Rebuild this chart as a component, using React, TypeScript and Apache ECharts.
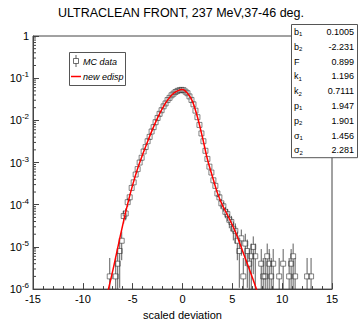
import React, { useEffect, useRef } from 'react';
import * as echarts from 'echarts';

const TITLE = 'ULTRACLEAN FRONT, 237 MeV,37-46 deg.';
const X_AXIS_NAME = 'scaled deviation';
const X_MIN = -15;
const X_MAX = 15;
const Y_MIN = 1e-6;
const Y_MAX = 1;

// MC data: bin centres and contents
const mcX = [
  -7.3, -6.7, -6.5, -6.3, -6.1, -5.9, -5.7, -5.5, -5.3, -5.1, -4.9, -4.7, -4.5, -4.3, -4.1,
  -3.9, -3.7, -3.5, -3.3, -3.1, -2.9, -2.7, -2.5, -2.3, -2.1, -1.9, -1.7, -1.5, -1.3, -1.1,
  -0.9, -0.7, -0.5, -0.3, -0.1, 0.1, 0.3, 0.5, 0.7, 0.9, 1.1, 1.3, 1.5, 1.7, 1.9,
  2.1, 2.3, 2.5, 2.7, 2.9, 3.1, 3.3, 3.5, 3.7, 3.9, 4.1, 4.3, 4.5, 4.7, 4.9,
  5.1, 5.3, 5.5, 5.7, 5.9, 6.1, 6.3, 6.5, 6.7, 6.9, 7.1, 7.3, 7.9, 8.1, 8.3,
  8.5, 8.7, 8.9, 9.1, 9.7, 10.1, 10.7, 10.9, 11.1, 11.3, 12.5, 12.9,
];
const mcY = [
  2e-6, 2e-6, 4e-6, 8e-6, 1.4e-5, 5.4e-5, 6.2e-5, 1.15e-4, 1.5e-4, 2.5e-4, 3.4e-4, 5.2e-4, 7.0e-4, 1.0e-3, 1.3e-3,
  1.83e-3, 2.33e-3, 3.2e-3, 4.05e-3, 5.45e-3, 6.9e-3, 9.05e-3, 1.14e-2, 1.43e-2, 1.74e-2, 2.15e-2, 2.52e-2, 3.03e-2, 3.42e-2, 3.93e-2,
  4.3e-2, 4.7e-2, 5.0e-2, 5.18e-2, 5.28e-2, 5.2e-2, 4.8e-2, 4.4e-2, 3.7e-2, 3.05e-2, 2.4e-2, 1.7e-2, 1.19e-2, 7.8e-3, 4.9e-3,
  3.2e-3, 1.9e-3, 1.22e-3, 8.0e-4, 5.8e-4, 3.8e-4, 2.8e-4, 1.85e-4, 1.5e-4, 1.08e-4, 9.2e-5, 6.8e-5, 6.0e-5, 4.4e-5, 3.9e-5,
  2.7e-5, 2.4e-5, 1.4e-5, 8e-6, 1.6e-5, 2e-6, 1.2e-5, 8e-6, 4e-6, 6e-6, 1e-5, 6e-6, 4e-6, 2e-6, 2e-6,
  6e-6, 4e-6, 2e-6, 4e-6, 2e-6, 4e-6, 2e-6, 4e-6, 6e-6, 2e-6, 2e-6, 2e-6,
];
// per-entry weight used for the statistical error bars
const EVENT_WEIGHT = 6e-6;

// fit curve "new edisp"
const fitX = [
  -7.45, -7.0, -6.5, -6.0, -5.5, -5.0, -4.5, -4.0, -3.5, -3.0, -2.5, -2.0, -1.5, -1.0, -0.5,
  0.0, 0.5, 1.0, 1.5, 2.0, 2.5, 3.0, 3.5, 4.0, 4.5, 5.0, 5.5, 6.0, 6.5, 7.0, 7.45,
];
const fitY = [
  9.5e-7, 2.7e-6, 9.5e-6, 3.3e-5, 1.05e-4, 2.95e-4, 7.2e-4, 1.55e-3, 3.16e-3, 6.2e-3, 1.15e-2, 1.95e-2, 3.02e-2, 4.17e-2, 5.0e-2,
  5.37e-2, 4.37e-2, 2.82e-2, 1.2e-2, 3.98e-3, 1.2e-3, 4.68e-4, 1.91e-4, 9.8e-5, 5.75e-5, 3.3e-5, 1.74e-5, 8.3e-6, 4.0e-6, 1.9e-6, 9.5e-7,
];

const statLabels = ['b{s|1}', 'b{s|2}', 'F', 'k{s|1}', 'k{s|2}', 'p{s|1}', 'p{s|2}', '\u03c3{s|1}', '\u03c3{s|2}'];
const statValues = ['0.1005', '-2.231', '0.899', '1.196', '0.7111', '1.947', '1.901', '1.456', '2.281'];

const legendLabels = ['MC data', 'new edisp'];

const FONT = '"Liberation Sans", Arial, Helvetica, sans-serif';

export default function App() {
  const ref = useRef<HTMLDivElement>(null);

  useEffect(() => {
    if (!ref.current) return;
    const chart = echarts.init(ref.current, null, { renderer: 'svg' });

    const mcData = mcX.map((x, i) => {
      const v = mcY[i];
      const e = Math.sqrt(v * EVENT_WEIGHT);
      return [x, v, v - e, v + e];
    });

    const minorY: number[] = [];
    for (let k = -6; k < 0; k++) {
      for (let m = 2; m <= 9; m++) minorY.push(m * Math.pow(10, k));
    }

    const statGraphics: any[] = [];
    const boxL = 291;
    const boxT = 24;
    const rowH = 14.8;
    const boxW = 66;
    statGraphics.push({
      type: 'rect',
      z: 100,
      shape: { x: boxL + 0.5, y: boxT + 0.5, width: boxW, height: rowH * statLabels.length },
      style: { fill: '#fff', stroke: '#555', lineWidth: 1 },
    });
    statLabels.forEach((lab, i) => {
      const cy = boxT + rowH / 2 + i * rowH + 0.5;
      statGraphics.push({
        type: 'text',
        z: 101,
        x: boxL + 3,
        y: cy,
        style: {
          text: lab,
          font: `9px ${FONT}`,
          fill: '#000',
          verticalAlign: 'middle',
          textAlign: 'left',
          rich: { s: { fontSize: 6, fontFamily: FONT, padding: [5, 0, 0, 0] } },
        },
      });
      statGraphics.push({
        type: 'text',
        z: 101,
        x: boxL + boxW - 3,
        y: cy,
        style: {
          text: statValues[i],
          font: `9px ${FONT}`,
          fill: '#000',
          verticalAlign: 'middle',
          textAlign: 'right',
        },
      });
    });

    const legendGraphics: any[] = [
      {
        type: 'rect',
        z: 100,
        shape: { x: 69.5, y: 52.5, width: 56, height: 33 },
        style: { fill: '#fff', stroke: '#555', lineWidth: 1 },
      },
      { type: 'line', z: 101, shape: { x1: 76, y1: 55, x2: 76, y2: 58.5 }, style: { stroke: '#333', lineWidth: 0.8 } },
      { type: 'line', z: 101, shape: { x1: 76, y1: 63.5, x2: 76, y2: 67 }, style: { stroke: '#333', lineWidth: 0.8 } },
      { type: 'rect', z: 101, shape: { x: 73.5, y: 58.5, width: 5, height: 5 }, style: { fill: 'none', stroke: '#333', lineWidth: 0.7 } },
      {
        type: 'text', z: 101, x: 83, y: 61.5,
        style: { text: legendLabels[0], font: `italic 9px ${FONT}`, fill: '#000', verticalAlign: 'middle' },
      },
      { type: 'line', z: 101, shape: { x1: 71, y1: 76.5, x2: 81, y2: 76.5 }, style: { stroke: '#ff0000', lineWidth: 1.5 } },
      {
        type: 'text', z: 101, x: 83, y: 76.5,
        style: { text: legendLabels[1], font: `italic 9px ${FONT}`, fill: '#000', verticalAlign: 'middle' },
      },
    ];

    const option: any = {
      animation: false,
      textStyle: { fontFamily: FONT },
      grid: {
        left: 33,
        right: 26,
        top: 36,
        bottom: 29,
        show: true,
        borderColor: '#444',
        borderWidth: 1,
        backgroundColor: 'transparent',
      },
      xAxis: {
        type: 'value',
        min: X_MIN,
        max: X_MAX,
        interval: 5,
        name: X_AXIS_NAME,
        nameLocation: 'middle',
        nameGap: 18,
        nameTextStyle: { fontSize: 11, color: '#000', fontFamily: FONT },
        axisLine: { show: true, onZero: false, lineStyle: { color: '#444', width: 1 } },
        axisTick: { show: true, inside: true, length: 6, lineStyle: { color: '#444' } },
        minorTick: { show: true, splitNumber: 5, length: 3, lineStyle: { color: '#444' } },
        axisLabel: { fontSize: 11, color: '#000', margin: 4, fontFamily: FONT },
        splitLine: { show: false },
      },
      yAxis: {
        type: 'log',
        logBase: 10,
        min: Y_MIN,
        max: Y_MAX,
        axisLine: { show: true, onZero: false, lineStyle: { color: '#444', width: 1 } },
        axisTick: { show: true, inside: true, length: 6, lineStyle: { color: '#444' } },
        axisLabel: {
          fontSize: 11,
          color: '#000',
          margin: 4,
          fontFamily: FONT,
          formatter: (v: number) => {
            const ex = Math.round(Math.log10(v));
            if (ex === 0) return '1';
            return '10{sup|' + ex + '}';
          },
          rich: {
            sup: { fontSize: 8, fontFamily: FONT, padding: [0, 0, 7, 0] },
          },
        },
        splitLine: { show: false },
      },
      series: [
        {
          type: 'custom',
          name: 'minorY',
          clip: false,
          silent: true,
          data: minorY.map((v) => [X_MIN, v]),
          renderItem: (params: any, api: any) => {
            const p = api.coord([api.value(0), api.value(1)]);
            return {
              type: 'line',
              shape: { x1: p[0], y1: p[1], x2: p[0] + 3, y2: p[1] },
              style: { stroke: '#444', lineWidth: 1 },
            };
          },
        },
        {
          type: 'custom',
          name: 'MC data',
          clip: true,
          silent: true,
          data: mcData,
          renderItem: (params: any, api: any) => {
            const x = api.value(0);
            const v = api.value(1);
            const lo = Math.max(api.value(2), Y_MIN * 0.5);
            const hi = api.value(3);
            const pc = api.coord([x, v]);
            const pl = api.coord([x, lo]);
            const ph = api.coord([x, hi]);
            const h = 2.5;
            const children: any[] = [];
            if (pl[1] > pc[1] + h) {
              children.push({
                type: 'line',
                shape: { x1: pc[0], y1: pc[1] + h, x2: pc[0], y2: pl[1] },
                style: { stroke: '#333', lineWidth: 0.8 },
              });
            }
            if (ph[1] < pc[1] - h) {
              children.push({
                type: 'line',
                shape: { x1: pc[0], y1: ph[1], x2: pc[0], y2: pc[1] - h },
                style: { stroke: '#333', lineWidth: 0.8 },
              });
            }
            children.push({
              type: 'rect',
              shape: { x: pc[0] - h, y: pc[1] - h, width: 2 * h, height: 2 * h },
              style: { fill: 'none', stroke: '#333', lineWidth: 0.6 },
            });
            return { type: 'group', children };
          },
        },
        {
          type: 'line',
          name: 'new edisp',
          data: fitX.map((x, i) => [x, fitY[i]]),
          showSymbol: false,
          smooth: 0.3,
          clip: true,
          lineStyle: { color: '#ff0000', width: 1.5 },
          z: 5,
        },
      ],
      graphic: [
        {
          type: 'text',
          x: 181,
          y: 13,
          z: 100,
          style: {
            text: TITLE,
            font: `12.5px ${FONT}`,
            fill: '#000',
            textAlign: 'center',
            verticalAlign: 'middle',
          },
        },
        ...legendGraphics,
        ...statGraphics,
      ],
    };

    chart.setOption(option);
    return () => chart.dispose();
  }, []);

  return <div ref={ref} style={{ width: 358, height: 325, position: 'absolute', left: 0, top: 0 }} />;
}
